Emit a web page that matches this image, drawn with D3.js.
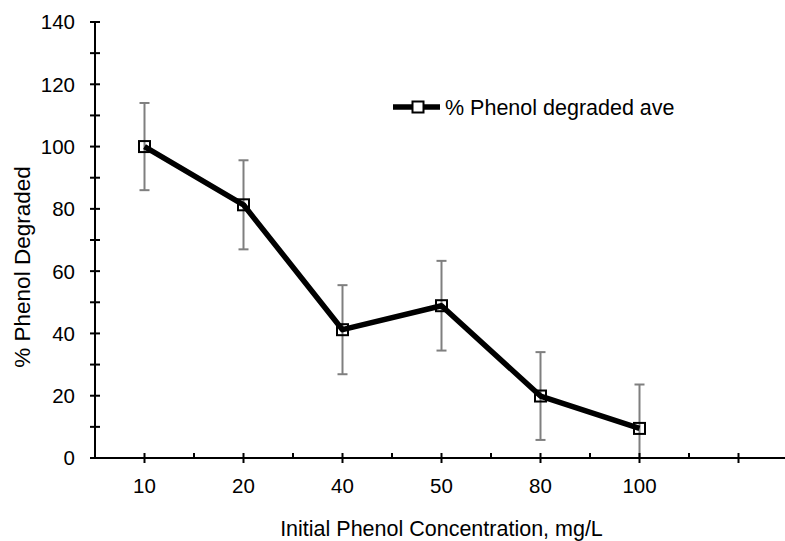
<!DOCTYPE html>
<html>
<head>
<meta charset="utf-8">
<script src="https://cdn.jsdelivr.net/npm/d3@7"></script>
<style>
  html, body { margin: 0; padding: 0; background: #fff; }
  svg { display: block; font-family: "Liberation Sans", Arial, sans-serif; }
</style>
</head>
<body>
<svg id="chart" width="785" height="541"></svg>
<script>
// ---- data ----
const categories = ["10", "20", "40", "50", "80", "100", ""];
const degradedAve = [100, 81.3, 41.2, 48.9, 19.9, 9.5];
const errorValues = [14.0, 14.3, 14.3, 14.4, 14.1, 14.1];
const yTicks = [0, 20, 40, 60, 80, 100, 120, 140];
const yMinorTicks = [10, 30, 50, 70, 90, 110, 130];
const seriesName = "% Phenol degraded ave";
const xTitle = "Initial Phenol Concentration, mg/L";
const yTitle = "% Phenol Degraded";

// ---- layout ----
const svg = d3.select("#chart");
const plotLeft = 95, plotRight = 788, plotTop = 22, plotBottom = 458;

const x = d3.scaleBand().domain(d3.range(categories.length)).range([plotLeft, plotRight]).paddingInner(0).paddingOuter(0);
const xc = i => x(i) + x.bandwidth() / 2;
const y = d3.scaleLinear().domain([0, 140]).range([plotBottom, plotTop]);

// error bars
const eb = svg.append("g").attr("stroke", "#7f7f7f").attr("stroke-width", 2);
degradedAve.forEach((v, i) => {
  const hi = v + errorValues[i];
  const lo = Math.max(0, v - errorValues[i]);
  const cx = xc(i);
  eb.append("line").attr("x1", cx).attr("x2", cx).attr("y1", y(hi)).attr("y2", y(lo));
  eb.append("line").attr("x1", cx - 5).attr("x2", cx + 5).attr("y1", y(hi)).attr("y2", y(hi));
  if (v - errorValues[i] > 0) {
    eb.append("line").attr("x1", cx - 5).attr("x2", cx + 5).attr("y1", y(lo)).attr("y2", y(lo));
  }
});

// axes
const ax = svg.append("g").attr("stroke", "#000").attr("stroke-width", 2);
ax.append("line").attr("x1", plotLeft).attr("x2", plotRight).attr("y1", plotBottom).attr("y2", plotBottom);
ax.append("line").attr("x1", plotLeft).attr("x2", plotLeft).attr("y1", plotTop).attr("y2", plotBottom + 1);
// y ticks (cross)
yTicks.concat(yMinorTicks).forEach(t => {
  ax.append("line").attr("x1", plotLeft - 5).attr("x2", plotLeft + 5).attr("y1", y(t)).attr("y2", y(t));
});
// x major ticks (cross) at category centres
categories.forEach((c, i) => {
  ax.append("line").attr("x1", xc(i)).attr("x2", xc(i)).attr("y1", plotBottom - 5).attr("y2", plotBottom + 5);
});
// x minor ticks (inside) at category boundaries
categories.forEach((c, i) => {
  if (i === 0) return;
  ax.append("line").attr("x1", x(i)).attr("x2", x(i)).attr("y1", plotBottom - 5).attr("y2", plotBottom);
});

// tick labels
svg.append("g").selectAll("text").data(yTicks).join("text")
  .attr("x", 75).attr("y", d => y(d)).attr("dy", "0.36em")
  .attr("text-anchor", "end").attr("font-size", 20.5).attr("fill", "#000")
  .text(d => d);
svg.append("g").selectAll("text").data(categories).join("text")
  .attr("x", (d, i) => xc(i)).attr("y", 493)
  .attr("text-anchor", "middle").attr("font-size", 20.5).attr("fill", "#000")
  .text(d => d);

// titles
svg.append("text").attr("x", (plotLeft + plotRight) / 2).attr("y", 536)
  .attr("text-anchor", "middle").attr("font-size", 21.5).attr("fill", "#000").text(xTitle);
svg.append("text").attr("transform", "translate(30,267) rotate(-90)")
  .attr("text-anchor", "middle").attr("font-size", 22.5).attr("fill", "#000").text(yTitle);

// series line
const line = d3.line().x((d, i) => xc(i)).y(d => y(d));
svg.append("path").datum(degradedAve).attr("d", line)
  .attr("fill", "none").attr("stroke", "#000").attr("stroke-width", 5.5).attr("stroke-linejoin", "round");

// markers
svg.append("g").selectAll("rect").data(degradedAve).join("rect")
  .attr("x", (d, i) => xc(i) - 5.5).attr("y", d => y(d) - 5.5)
  .attr("width", 11).attr("height", 11)
  .attr("fill", "none").attr("stroke", "#000").attr("stroke-width", 2);

// legend
const lg = svg.append("g");
lg.append("line").attr("x1", 393).attr("x2", 440).attr("y1", 107).attr("y2", 107)
  .attr("stroke", "#000").attr("stroke-width", 5.5);
lg.append("rect").attr("x", 418 - 5.5).attr("y", 107 - 5.5).attr("width", 11).attr("height", 11)
  .attr("fill", "#fff").attr("stroke", "#000").attr("stroke-width", 2);
lg.append("text").attr("x", 445).attr("y", 107).attr("dy", "0.36em")
  .attr("font-size", 21.5).attr("fill", "#000").text(seriesName);
</script>
</body>
</html>
